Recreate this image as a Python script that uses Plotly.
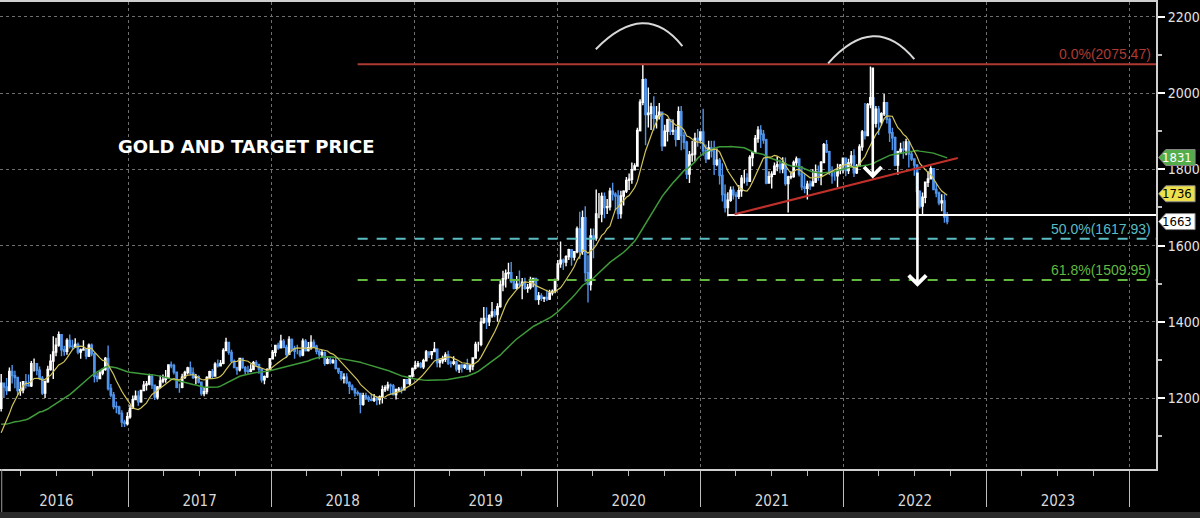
import pandas as pd
import plotly.graph_objects as go

# ---------------- data (weekly, Friday closes) ----------------
# warm-up closes (2015-05-01 .. 2016-02-05) used only for the moving averages
warm_close = [1178, 1189, 1225, 1205, 1190,
              1168, 1181, 1201, 1173,
              1168, 1157, 1132, 1099, 1095,
              1094, 1114, 1159, 1134,
              1121, 1108, 1138, 1146,
              1137, 1156, 1163, 1165, 1142,
              1088, 1083, 1076, 1057,
              1085, 1075, 1065, 1076,
              1061, 1098, 1090, 1097, 1116,
              1173]

first_week = "2016-02-12"
close = [1239, 1229, 1220,
         1270, 1259, 1254, 1220,
         1222, 1243, 1234, 1232, 1290,
         1290, 1273, 1252, 1213,
         1243, 1275, 1297, 1321,
         1339, 1366, 1327, 1323, 1351,
         1336, 1335, 1341, 1321,
         1326, 1328, 1310, 1339, 1316,
         1257, 1251, 1266, 1275,
         1304, 1225, 1208, 1178,
         1177, 1160, 1137, 1133, 1151,
         1173, 1196, 1205, 1190,
         1220, 1234, 1237, 1257,
         1234, 1203, 1229, 1245, 1249,
         1254, 1287, 1285, 1268,
         1228, 1228, 1255, 1267,
         1279, 1266, 1254, 1256, 1242,
         1212, 1217, 1254, 1269,
         1258, 1289, 1285, 1291,
         1325, 1346, 1320, 1297, 1280,
         1274, 1304, 1280, 1271,
         1270, 1275, 1293, 1288,
         1276, 1248, 1256, 1275, 1303,
         1320, 1338, 1332, 1349,
         1333, 1315, 1354, 1330,
         1323, 1323, 1313, 1349, 1325,
         1332, 1346, 1336, 1323,
         1314, 1319, 1291, 1301,
         1293, 1298, 1278, 1269, 1252,
         1255, 1241, 1231, 1223,
         1214, 1212, 1184, 1206, 1201,
         1196, 1194, 1199, 1196,
         1203, 1222, 1227, 1234,
         1232, 1209, 1222, 1223, 1222,
         1248, 1238, 1258, 1278,
         1285, 1290, 1282, 1298,
         1321, 1314, 1322, 1328,
         1293, 1298, 1302, 1313, 1292,
         1291, 1295, 1276, 1286,
         1281, 1286, 1276, 1284, 1305,
         1341, 1341, 1399, 1409,
         1400, 1416, 1426, 1419,
         1440, 1497, 1513, 1527, 1529,
         1506, 1488, 1499, 1497,
         1504, 1488, 1490, 1505,
         1514, 1459, 1468, 1462, 1464,
         1460, 1476, 1480, 1511,
         1552, 1562, 1557, 1571, 1589,
         1570, 1584, 1644, 1585,
         1673, 1529, 1498, 1625,
         1620, 1683, 1683, 1729,
         1700, 1702, 1743, 1735, 1730,
         1684, 1730, 1743, 1771,
         1774, 1799, 1809, 1902, 1976,
         2035, 1944, 1947, 1964,
         1934, 1940, 1950, 1862,
         1900, 1930, 1900, 1902, 1879,
         1951, 1889, 1871, 1788,
         1838, 1840, 1881, 1877,
         1898, 1849, 1828, 1856, 1848,
         1813, 1824, 1784, 1734,
         1700, 1719, 1745, 1733,
         1729, 1744, 1777, 1777, 1769,
         1831, 1844, 1881, 1903,
         1892, 1877, 1764, 1781,
         1787, 1808, 1812, 1802, 1814,
         1763, 1780, 1781, 1818,
         1827, 1788, 1754, 1750,
         1761, 1757, 1767, 1793, 1783,
         1818, 1865, 1846, 1793,
         1783, 1783, 1798, 1811, 1829,
         1797, 1817, 1835, 1791,
         1808, 1859, 1898, 1889,
         1970, 1988, 1921, 1958,
         1925, 1946, 1975, 1931, 1896,
         1883, 1811, 1846, 1853,
         1851, 1872, 1840, 1827,
         1811, 1742, 1704, 1727, 1766,
         1775, 1802, 1747, 1738,
         1712, 1717, 1675, 1663]

high = [1263, 1240, 1253,
        1280, 1287, 1272, 1254,
        1243, 1245, 1263, 1262, 1297,
        1304, 1291, 1283, 1258,
        1246, 1285, 1315, 1362,
        1358, 1375, 1366, 1337, 1357,
        1367, 1353, 1357, 1346,
        1330, 1352, 1330, 1343, 1343,
        1318, 1266, 1272, 1277,
        1308, 1338, 1237, 1216,
        1191, 1180, 1168, 1143, 1163,
        1182, 1207, 1220, 1219,
        1222, 1245, 1245, 1264,
        1263, 1234, 1232, 1259, 1262,
        1274, 1289, 1296, 1290,
        1268, 1238, 1264, 1272,
        1282, 1296, 1280, 1263, 1260,
        1243, 1229, 1257, 1272,
        1276, 1294, 1301, 1300,
        1331, 1358, 1348, 1327, 1301,
        1282, 1306, 1306, 1284,
        1285, 1289, 1297, 1299,
        1290, 1277, 1259, 1278, 1305,
        1326, 1340, 1345, 1366,
        1355, 1340, 1362, 1356,
        1337, 1340, 1327, 1356, 1355,
        1347, 1365, 1354, 1340,
        1326, 1326, 1322, 1307,
        1307, 1303, 1309, 1279, 1270,
        1265, 1265, 1244, 1236,
        1227, 1220, 1213, 1214, 1214,
        1207, 1212, 1211, 1205,
        1207, 1233, 1234, 1243,
        1238, 1237, 1225, 1229, 1230,
        1250, 1250, 1260, 1280,
        1298, 1297, 1295, 1303,
        1326, 1322, 1323, 1347,
        1329, 1302, 1311, 1320, 1324,
        1298, 1310, 1297, 1288,
        1290, 1289, 1303, 1288, 1306,
        1348, 1348, 1411, 1439,
        1438, 1420, 1452, 1434,
        1449, 1510, 1534, 1537, 1555,
        1557, 1513, 1520, 1535,
        1515, 1516, 1499, 1518,
        1516, 1516, 1478, 1475, 1466,
        1484, 1484, 1485, 1513,
        1562, 1611, 1566, 1575, 1592,
        1591, 1585, 1650, 1689,
        1692, 1703, 1575, 1645,
        1645, 1747, 1738, 1739,
        1739, 1722, 1752, 1765, 1740,
        1745, 1744, 1745, 1780,
        1789, 1818, 1816, 1909, 1984,
        2075, 2039, 2015, 1975,
        1992, 1966, 1974, 1951,
        1917, 1933, 1932, 1931, 1911,
        1965, 1966, 1898, 1875,
        1848, 1875, 1896, 1906,
        1900, 1959, 1865, 1875, 1875,
        1875, 1855, 1830, 1816,
        1760, 1740, 1755, 1756,
        1741, 1759, 1785, 1798, 1790,
        1837, 1846, 1890, 1913,
        1916, 1903, 1880, 1795,
        1795, 1818, 1834, 1825, 1832,
        1831, 1783, 1795, 1823,
        1834, 1828, 1809, 1787,
        1770, 1771, 1800, 1813, 1810,
        1822, 1869, 1877, 1849,
        1808, 1793, 1815, 1814, 1831,
        1831, 1828, 1848, 1853,
        1814, 1866, 1903, 1974,
        1974, 2070, 1990, 1966,
        1966, 1950, 1998, 1958, 1936,
        1909, 1886, 1849, 1870,
        1874, 1880, 1857, 1847,
        1828, 1814, 1745, 1739, 1767,
        1795, 1808, 1802, 1765,
        1742, 1735, 1735, 1688]

low = [1165, 1200, 1208,
       1225, 1238, 1226, 1208,
       1206, 1213, 1225, 1230, 1229,
       1270, 1260, 1248, 1208,
       1200, 1240, 1272, 1250,
       1310, 1335, 1310, 1311, 1314,
       1330, 1326, 1332, 1315,
       1303, 1325, 1302, 1308, 1310,
       1241, 1242, 1250, 1260,
       1272, 1220, 1202, 1171,
       1160, 1156, 1124, 1124, 1128,
       1146, 1172, 1195, 1180,
       1188, 1218, 1220, 1234,
       1224, 1195, 1196, 1226, 1239,
       1240, 1250, 1278, 1262,
       1226, 1214, 1226, 1250,
       1262, 1260, 1250, 1236, 1238,
       1206, 1205, 1210, 1251,
       1251, 1256, 1280, 1283,
       1289, 1323, 1314, 1294, 1278,
       1261, 1270, 1277, 1262,
       1264, 1268, 1273, 1283,
       1264, 1241, 1236, 1253, 1274,
       1302, 1309, 1327, 1330,
       1331, 1306, 1316, 1322,
       1303, 1315, 1307, 1310, 1322,
       1322, 1327, 1333, 1315,
       1302, 1305, 1285, 1289,
       1289, 1290, 1275, 1263, 1246,
       1238, 1236, 1211, 1220,
       1204, 1206, 1160, 1180, 1195,
       1190, 1192, 1190, 1181,
       1183, 1186, 1216, 1219,
       1211, 1207, 1196, 1218, 1212,
       1221, 1236, 1233, 1254,
       1275, 1280, 1278, 1276,
       1297, 1305, 1302, 1320,
       1281, 1280, 1290, 1295, 1287,
       1280, 1286, 1270, 1266,
       1267, 1276, 1274, 1268, 1273,
       1305, 1322, 1336, 1395,
       1381, 1389, 1411, 1412,
       1400, 1437, 1480, 1490, 1513,
       1501, 1485, 1484, 1488,
       1459, 1484, 1476, 1485,
       1491, 1456, 1445, 1455, 1452,
       1455, 1457, 1469, 1475,
       1507, 1542, 1536, 1546, 1562,
       1547, 1561, 1580, 1565,
       1576, 1505, 1451, 1482,
       1567, 1613, 1672, 1661,
       1672, 1683, 1692, 1718, 1693,
       1670, 1671, 1705, 1738,
       1746, 1762, 1797, 1807, 1899,
       1968, 1863, 1910, 1903,
       1902, 1907, 1931, 1848,
       1861, 1873, 1890, 1890, 1860,
       1877, 1850, 1853, 1775,
       1764, 1820, 1821, 1859,
       1868, 1836, 1817, 1827, 1831,
       1785, 1808, 1760, 1716,
       1687, 1677, 1715, 1721,
       1677, 1722, 1728, 1763, 1757,
       1768, 1808, 1843, 1870,
       1856, 1867, 1761, 1765,
       1750, 1785, 1795, 1790, 1790,
       1757, 1687, 1774, 1778,
       1808, 1781, 1745, 1737,
       1721, 1746, 1755, 1764, 1770,
       1758, 1816, 1843, 1785,
       1762, 1770, 1753, 1787, 1789,
       1782, 1788, 1805, 1780,
       1788, 1806, 1849, 1878,
       1889, 1960, 1895, 1910,
       1890, 1915, 1940, 1920, 1872,
       1850, 1808, 1786, 1840,
       1828, 1837, 1805, 1822,
       1783, 1732, 1697, 1680, 1711,
       1754, 1775, 1745, 1727,
       1706, 1690, 1660, 1656]

ma_fast_weeks = 10
ma_slow_weeks = 40

# Fibonacci retracement levels
fib_levels = [2075.47, 1617.93, 1509.95]
fib_labels = ["0.0%(2075.47)", "50.0%(1617.93)", "61.8%(1509.95)"]
fib_start = "2018-08-10"

# support line, rising trend line
support_level = 1680
support_start = "2021-03-12"
trend_dates = ["2021-03-29", "2022-10-20"]
trend_values = [1682, 1830]

# arrows: (date, tail value, head value)
arrow_dates = ["2022-03-17", "2022-07-09"]
arrow_tails = [2071, 1796]
arrow_heads = [1776, 1492]

# arcs above the two tops: start, peak, end (date, value)
arc_dates = [("2020-04-09", "2020-08-05", "2020-11-16"),
             ("2021-11-23", "2022-03-17", "2022-07-01")]
arc_values = [(2115, 2183, 2123), (2078, 2149, 2089)]

# last-value tags on the price axis
tag_values = [1831, 1736, 1663]
tag_texts = ["1831", "1736", "1663"]

title_text = "GOLD AND TARGET PRICE"
x_range = ["2016-02-09", "2024-03-09"]
y_range = [1014, 2239]
y_ticks = [1200, 1400, 1600, 1800, 2000, 2200]
y_minor = [1100, 1300, 1500, 1700, 1900, 2100]

# ---------------- derived ----------------
dates = pd.date_range(first_week, periods=len(close), freq="W-FRI")
opens = [warm_close[-1]] + close[:-1]
all_close = pd.Series(warm_close + close, dtype=float)
n_warm = len(warm_close)
ma_fast = all_close.rolling(ma_fast_weeks).mean().iloc[n_warm:].tolist()
ma_slow = all_close.rolling(ma_slow_weeks).mean().iloc[n_warm:].tolist()

NARROW = "Liberation Sans Narrow, DejaVu Sans Condensed, Liberation Sans, sans-serif"

fig = go.Figure()
fig.add_trace(go.Candlestick(
    x=dates, open=opens, high=high, low=low, close=close,
    increasing=dict(line=dict(color="#ffffff", width=1.4), fillcolor="#ffffff"),
    decreasing=dict(line=dict(color="#4f93ea", width=1.4), fillcolor="#4f93ea"),
    whiskerwidth=0, hoverinfo="skip", name="Gold"))
fig.add_trace(go.Scatter(x=dates, y=ma_slow, mode="lines",
                         line=dict(color="#3f9a3a", width=1.5), hoverinfo="skip"))
fig.add_trace(go.Scatter(x=dates, y=ma_fast, mode="lines",
                         line=dict(color="#d2c45a", width=1.2), hoverinfo="skip"))

shapes = []
annotations = []

fib_colors = ["#ad3a33", "#5bbcc4", "#63b840"]
fib_dash = ["solid", "10px,9px", "10px,9px"]
for lvl, lab, col, dsh in zip(fib_levels, fib_labels, fib_colors, fib_dash):
    shapes.append(dict(type="line", xref="x", yref="y", x0=fib_start, x1=x_range[1],
                       y0=lvl, y1=lvl, line=dict(color=col, width=2, dash=dsh)))
    annotations.append(dict(xref="paper", yref="y", x=0.997, y=lvl, xanchor="right",
                            yanchor="bottom", yshift=0, text=lab, showarrow=False,
                            font=dict(family="Liberation Sans, sans-serif", size=14, color=col)))

shapes.append(dict(type="line", xref="x", yref="y", x0=support_start, x1=x_range[1],
                   y0=support_level, y1=support_level, line=dict(color="#ffffff", width=2)))
shapes.append(dict(type="line", xref="x", yref="y", x0=trend_dates[0], x1=trend_dates[1],
                   y0=trend_values[0], y1=trend_values[1], line=dict(color="#c0302a", width=2)))


def ms(d):
    return pd.Timestamp(d).value / 1e6


for (d0, dp, d2), (v0, vp, v2) in zip(arc_dates, arc_values):
    x0, xp, x2 = ms(d0), ms(dp), ms(d2)
    cx = 2 * xp - (x0 + x2) / 2
    cy = 2 * vp - (v0 + v2) / 2
    shapes.append(dict(type="path", xref="x", yref="y",
                       path=f"M {x0},{v0} Q {cx},{cy} {x2},{v2}",
                       line=dict(color="#d8d8d8", width=2)))

for d, t, h in zip(arrow_dates, arrow_tails, arrow_heads):
    annotations.append(dict(x=d, y=h, xref="x", yref="y", ax=0, ay=t, axref="pixel",
                            ayref="y", text="", showarrow=True, arrowhead=4,
                            arrowsize=1.3, arrowwidth=2.6, arrowcolor="#ffffff"))

# price tags on the right axis
tag_bg = ["#54ad4b", "#ece04c", "#ffffff"]
tag_fg = ["#ffffff", "#000000", "#000000"]
hh = 21
for v, t, bg, fg in zip(tag_values, tag_texts, tag_bg, tag_fg):
    shapes.append(dict(type="path", xref="paper", yref="y", layer="above",
                       path=(f"M 1.0022,{v} L 1.0085,{v + hh} L 1.0338,{v + hh} "
                             f"L 1.0338,{v - hh} L 1.0085,{v - hh} Z"),
                       fillcolor=bg, line=dict(color="#888888", width=1)))
    annotations.append(dict(xref="paper", yref="y", x=1.0185, y=v, xanchor="center",
                            yanchor="middle", text=t, showarrow=False,
                            font=dict(family=NARROW, size=13, color=fg)))

# bottom band and label-area border
shapes.append(dict(type="rect", xref="paper", yref="paper", x0=-0.01, x1=1.05,
                   y0=-0.2, y1=-0.092, fillcolor="#2b2b2b", line=dict(width=0)))
shapes.append(dict(type="line", xref="paper", yref="paper", x0=0.0015, x1=0.0015,
                   y0=0, y1=-0.092, line=dict(color="#9a9a9a", width=1)))

annotations.append(dict(xref="paper", yref="paper", x=0.213, y=0.69, text=f"<b>{title_text}</b>",
                        showarrow=False, xanchor="center", yanchor="middle",
                        font=dict(family="DejaVu Sans, Verdana, sans-serif", size=18, color="#ffffff")))

fig.update_layout(
    width=1200, height=518,
    margin=dict(l=0, r=40, t=1, b=49),
    paper_bgcolor="#000000", plot_bgcolor="#000000",
    showlegend=False,
    shapes=shapes, annotations=annotations,
    xaxis=dict(type="date", range=x_range, rangeslider=dict(visible=False),
               tick0="2016-01-01", dtick="M12", ticklabelmode="period", tickformat="%Y",
               ticks="outside", ticklen=36, tickwidth=1, tickcolor="#bdbdbd",
               ticklabelstandoff=-19,
               showgrid=True, gridcolor="#6e6e6e", griddash="dot", gridwidth=1,
               showline=True, linecolor="#cfcfcf", linewidth=2, mirror=True,
               tickfont=dict(family=NARROW, size=15, color="#d8d8d8"),
               minor=dict(dtick="M3", tick0="2016-01-01", ticks="outside", ticklen=5,
                          tickcolor="#bdbdbd", showgrid=False),
               zeroline=False, fixedrange=True),
    yaxis=dict(side="right", range=y_range, tickmode="array", tickvals=y_ticks,
               ticks="outside", ticklen=7, tickwidth=2, tickcolor="#ffffff",
               showgrid=True, gridcolor="#6e6e6e", griddash="dot", gridwidth=1,
               showline=True, linecolor="#cfcfcf", linewidth=2,
               tickfont=dict(family=NARROW, size=14, color="#e2e2e2"),
               minor=dict(tickmode="array", tickvals=y_minor, ticks="outside", ticklen=4,
                          tickcolor="#bdbdbd", showgrid=False),
               zeroline=False, fixedrange=True),
)

fig.write_html("out.html")
